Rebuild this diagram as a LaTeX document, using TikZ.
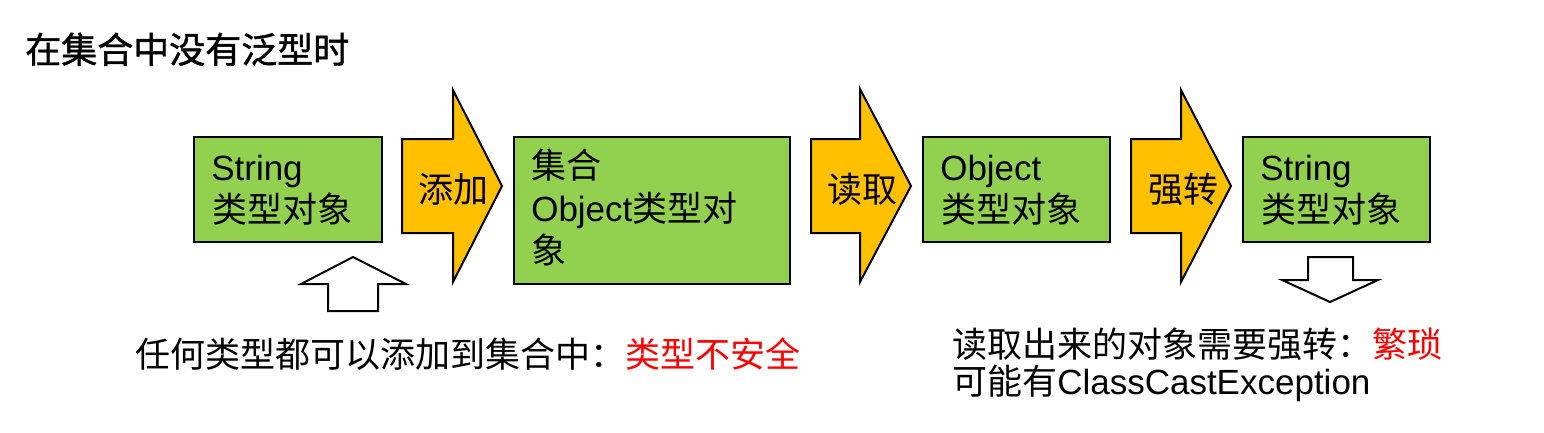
\documentclass[tikz,border=0pt]{standalone}
\usepackage{fontspec}
\setmainfont{Liberation Sans}
\newfontfamily\cjk{Noto Sans CJK SC}
\newfontfamily\cjktitle[FakeBold=1.2]{Noto Sans CJK SC}
\definecolor{boxgreen}{HTML}{92D050}
\definecolor{arrorange}{HTML}{FFC000}
\definecolor{warnred}{HTML}{FF0000}
\newcommand\fsbox{\fontsize{26.25pt}{31pt}\selectfont}
\newcommand\fstitle{\fontsize{27pt}{32pt}\selectfont}
\begin{document}
\begin{tikzpicture}[x=0.75pt,y=-0.75pt,
  box/.style={draw=black, line width=1.5pt, fill=boxgreen, anchor=north west, inner sep=0pt},
  blockarr/.style={draw=black, line width=1.5pt, fill=arrorange, line join=miter},
  hollow/.style={draw=black, line width=1.5pt, fill=white, line join=miter},
  txt/.style={inner sep=0pt, anchor=base west, font=\fsbox},
  arrlabel/.style={inner sep=0pt, anchor=center, font=\fsbox\cjk}]
\useasboundingbox (0,0) rectangle (1544,432);

% title
\node[inner sep=0pt, anchor=base west, font=\fstitle\cjktitle] (title) at (25,63) {在集合中没有泛型时};

% boxes
\node[box, minimum width=141pt, minimum height=78.75pt] (b1) at (193,136) {};
\node[box, minimum width=207pt, minimum height=110.25pt] (b2) at (513,136) {};
\node[box, minimum width=140.25pt, minimum height=78.75pt] (b3) at (922,136) {};
\node[box, minimum width=140.25pt, minimum height=78.75pt] (b4) at (1242,136) {};

% box texts
\node[txt] (t1a) at (211,180) {String};
\node[txt] (t1b) at (212,222) {\cjk 类型对象};
\node[txt] (t2a) at (531,178) {\cjk 集合};
\node[txt] (t2b) at (531,221) {Object{\cjk 类型对}};
\node[txt] (t2c) at (531,263) {\cjk 象};
\node[txt] (t3a) at (940,180) {Object};
\node[txt] (t3b) at (941,222) {\cjk 类型对象};
\node[txt] (t4a) at (1260,180) {String};
\node[txt] (t4b) at (1261,222) {\cjk 类型对象};

% block arrows
\draw[blockarr] (402,139) -- (453,139) -- (453,90) -- (502,186) -- (453,282) -- (453,233) -- (402,233) -- cycle;
\draw[blockarr] (811,139) -- (860,139) -- (860,89) -- (911,186) -- (860,282) -- (860,233) -- (811,233) -- cycle;
\draw[blockarr] (1131,139) -- (1181,139) -- (1181,90) -- (1231,186) -- (1181,282) -- (1181,233) -- (1131,233) -- cycle;
\node[arrlabel] (l1) at (453,189) {添加};
\node[arrlabel] (l2) at (862,189) {读取};
\node[arrlabel] (l3) at (1183,189) {强转};

% hollow arrows
\draw[hollow] (353,257) -- (406,284) -- (378,284) -- (378,311) -- (328,311) -- (328,284) -- (301,284) -- cycle;
\draw[hollow] (1308,257) -- (1353,257) -- (1353,280) -- (1378,280) -- (1330,302) -- (1282,280) -- (1308,280) -- cycle;

% notes
\node[txt] (n1) at (135,367) {\cjk 任何类型都可以添加到集合中：\textcolor{warnred}{类型不安全}};
\node[txt] (n2a) at (952,357) {\cjk 读取出来的对象需要强转：\textcolor{warnred}{繁琐}};
\node[txt] (n2b) at (952,394) {{\cjk 可能有}ClassCastException};
\end{tikzpicture}
\end{document}
